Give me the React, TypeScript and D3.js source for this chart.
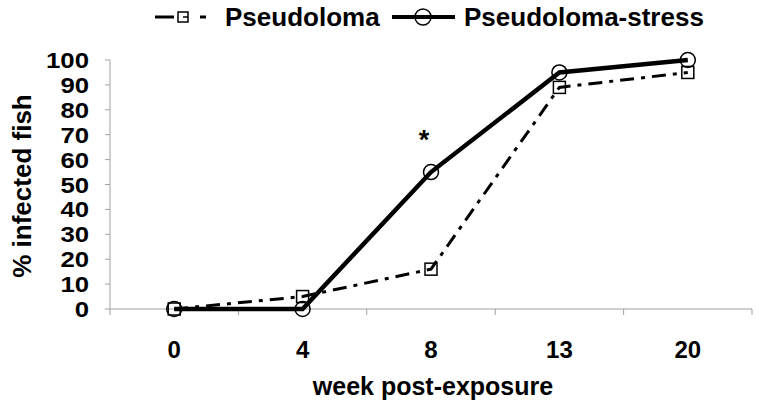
import React from "react";
import * as d3 from "d3";

const weeks = ["0", "4", "8", "13", "20"];
const pseudoloma = [0, 5, 16, 89, 95];
const pseudolomaStress = [0, 0, 55, 95, 100];
const yTicks = [0, 10, 20, 30, 40, 50, 60, 70, 80, 90, 100];
const seriesNames = ["Pseudoloma", "Pseudoloma-stress"];
const FONT = "'Liberation Sans', Arial, sans-serif";

export default function App() {
  const W = 762, H = 414;
  const left = 110, right = 752, top = 60, bottom = 309;
  const x = d3.scaleBand<string>().domain(weeks).range([left, right]);
  const y = d3.scaleLinear().domain([0, 100]).range([bottom, top]);
  const cx = (w: string) => (x(w) as number) + x.bandwidth() / 2;
  const line = d3.line<number>().x((_, i) => cx(weeks[i])).y(d => y(d));
  const boundaries = weeks.map(w => x(w) as number).concat([right]);
  const axisColor = "#a0a0a0";

  return (
    <svg width={W} height={H} style={{ position: "absolute", left: 0, top: 0, background: "#fff" }}>
      {/* y axis */}
      <line x1={left} x2={left} y1={top} y2={bottom} stroke={axisColor} strokeWidth={1} />
      {yTicks.map(t => (
        <g key={t}>
          <line x1={left - 5} x2={left} y1={y(t)} y2={y(t)} stroke={axisColor} />
          <text x={89} y={y(t)} dy="0.36em" textAnchor="end" fontFamily={FONT} fontWeight="bold" fontSize={25}
            transform={`translate(89,${y(t)}) scale(1.03,0.9) translate(-89,${-y(t)})`}>{t}</text>
        </g>
      ))}
      {/* x axis */}
      <line x1={left} x2={right} y1={bottom} y2={bottom} stroke={axisColor} />
      {boundaries.map((b, i) => (
        <line key={i} x1={b} x2={b} y1={bottom} y2={bottom + 6} stroke={axisColor} />
      ))}
      {weeks.map(w => (
        <text key={w} x={cx(w)} y={358} textAnchor="middle" fontFamily={FONT} fontWeight="bold" fontSize={24}>{w}</text>
      ))}
      <text x={433} y={395} textAnchor="middle" fontFamily={FONT} fontWeight="bold" fontSize={25}>week post-exposure</text>
      <text transform="translate(31,186) rotate(-90)" textAnchor="middle" fontFamily={FONT} fontWeight="bold" fontSize={26}>% infected fish</text>

      {/* series */}
      <path d={line(pseudoloma) || ""} fill="none" stroke="#000" strokeWidth={3} strokeDasharray="14,7,4,7" />
      <path d={line(pseudolomaStress) || ""} fill="none" stroke="#000" strokeWidth={4.5} />
      {pseudoloma.map((v, i) => (
        <rect key={i} x={cx(weeks[i]) - 6} y={y(v) - 6} width={12} height={12} fill="none" stroke="#000" strokeWidth={1.5} />
      ))}
      {pseudolomaStress.map((v, i) => (
        <circle key={i} cx={cx(weeks[i])} cy={y(v)} r={7.5} fill="none" stroke="#000" strokeWidth={1.5} />
      ))}
      <text x={424} y={149} textAnchor="middle" fontFamily={FONT} fontWeight="bold" fontSize={27}>*</text>

      {/* legend */}
      <line x1={155} x2={174} y1={17} y2={17} stroke="#000" strokeWidth={3} />
      <line x1={200} x2={206} y1={17} y2={17} stroke="#000" strokeWidth={3} />
      <rect x={178} y={12} width={10} height={10} fill="#fff" stroke="#000" strokeWidth={1.5} />
      <line x1={183} x2={188} y1={17} y2={17} stroke="#000" strokeWidth={1.5} />
      <text x={225} y={26} fontFamily={FONT} fontWeight="bold" fontSize={26}>{seriesNames[0]}</text>
      <line x1={392} x2={455} y1={17} y2={17} stroke="#000" strokeWidth={4} />
      <circle cx={423} cy={17} r={8} fill="none" stroke="#000" strokeWidth={1.5} />
      <text x={464} y={26} fontFamily={FONT} fontWeight="bold" fontSize={26}>{seriesNames[1]}</text>
    </svg>
  );
}
